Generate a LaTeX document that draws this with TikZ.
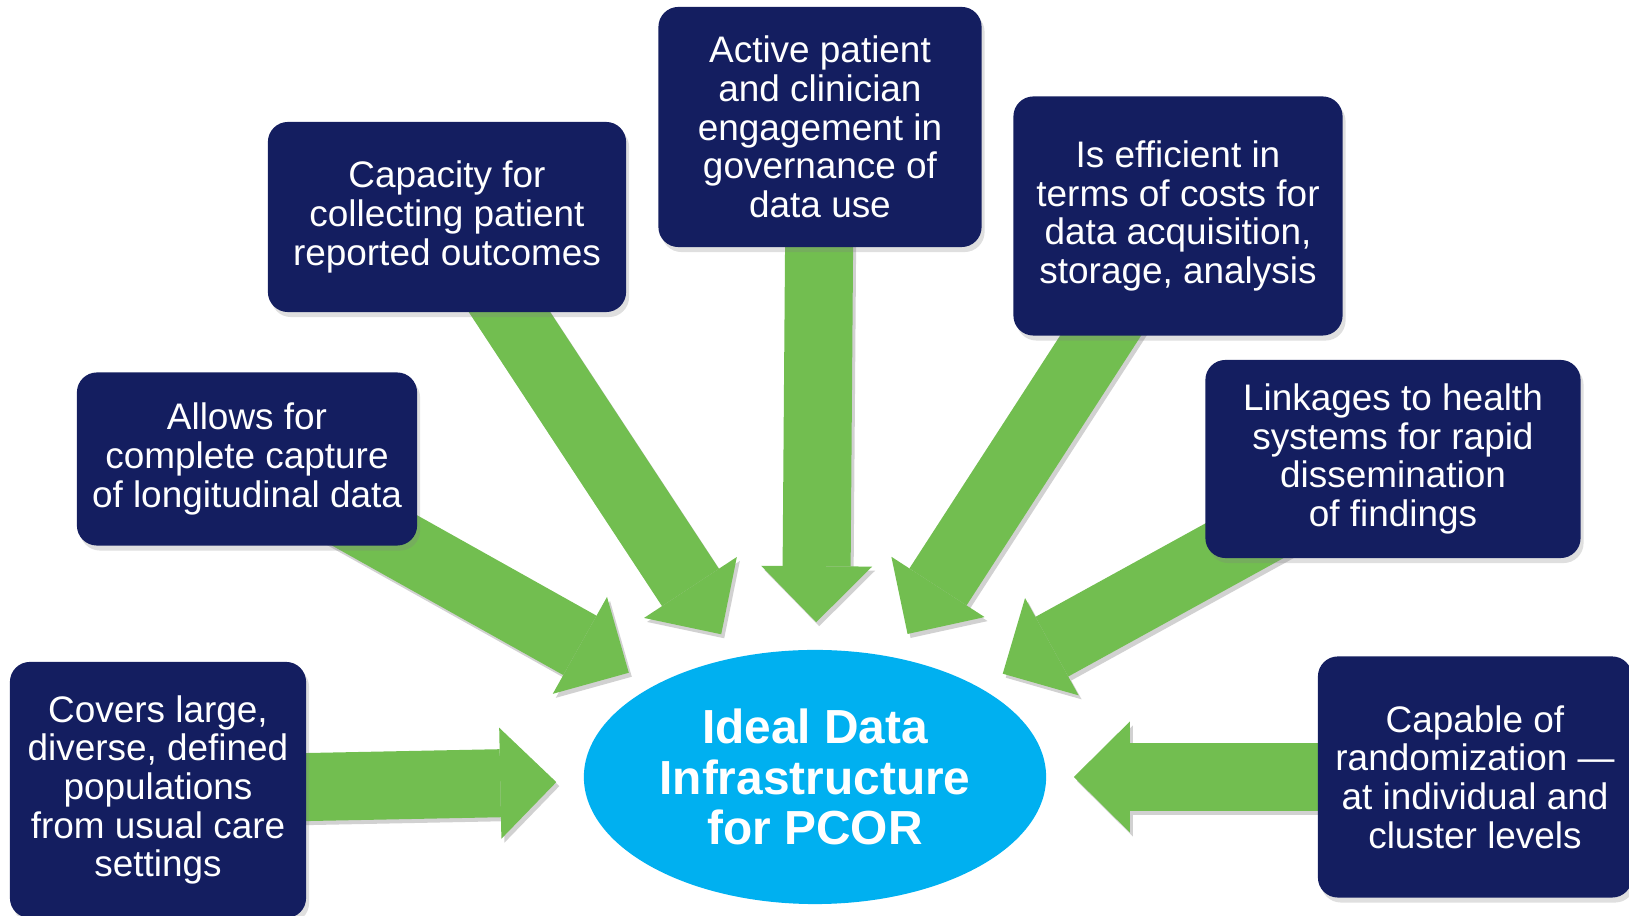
\documentclass[tikz,border=0pt]{standalone}
\usepackage{fontspec}
\setmainfont{Liberation Sans}
\usetikzlibrary{arrows.meta,shapes.geometric,shadows,backgrounds}
\definecolor{boxblue}{RGB}{20,30,96}
\definecolor{arrowgreen}{RGB}{114,190,80}
\definecolor{coresky}{RGB}{0,176,240}
\tikzset{
  goal/.style={fill=boxblue, text=white, rounded corners=0.2cm, align=center,
    inner sep=0pt, font=\fontsize{10.5}{11}\selectfont,
    drop shadow={shadow xshift=0.03cm, shadow yshift=-0.05cm, opacity=0.25}},
  feed/.style={draw=arrowgreen, line width=0.68cm, shorten >=0.27cm,
    -{Triangle[length=0.56cm, width=1.11cm, line width=0pt]}}
}

\begin{document}
\begin{tikzpicture}[x=0.01cm, y=-0.01cm]
\useasboundingbox (0,0) rectangle (1629,916);
% centre
\node[ellipse, fill=coresky, minimum width=4.62cm, minimum height=2.54cm,
  inner sep=0pt, text=white, align=center,
  font=\bfseries\fontsize{13.6}{14.3}\selectfont] (core) at (815,777)
  {Ideal Data\\Infrastructure\\for PCOR};
% boxes
\node[goal, minimum width=3.58cm, minimum height=1.90cm] (capacity) at (447,217)
  {Capacity for\\collecting patient\\reported outcomes};
\node[goal, minimum width=3.23cm, minimum height=2.40cm] (engage) at (820,127)
  {Active patient\\and clinician\\engagement in\\governance of\\data use};
\node[goal, minimum width=3.29cm, minimum height=2.39cm] (cost) at (1178,216)
  {Is efficient in\\terms of costs for\\data acquisition,\\storage, analysis};
\node[goal, minimum width=3.40cm, minimum height=1.73cm] (longit) at (247,459)
  {Allows for\\complete capture\\of longitudinal data};
\node[goal, minimum width=3.75cm, minimum height=1.98cm] (linkage) at (1393,459)
  {Linkages to health\\systems for rapid\\dissemination\\of findings};
\node[goal, minimum width=2.96cm, minimum height=2.56cm] (covers) at (158,790)
  {Covers large,\\diverse, defined\\populations\\from usual care\\settings};
\node[goal, minimum width=3.14cm, minimum height=2.41cm] (random) at (1475,777)
  {Capable of\\randomization —\\at individual and\\cluster levels};
% arrows
\begin{scope}[on background layer]
\foreach \b in {covers,longit,capacity,engage,cost,linkage,random}
  \draw[feed, draw=black!18, transform canvas={shift={(0.03cm,-0.04cm)}}] (\b.center) -- (core);
\foreach \b in {covers,longit,capacity,engage,cost,linkage,random}
  \draw[feed] (\b.center) -- (core);
\end{scope}
\end{tikzpicture}
\end{document}
